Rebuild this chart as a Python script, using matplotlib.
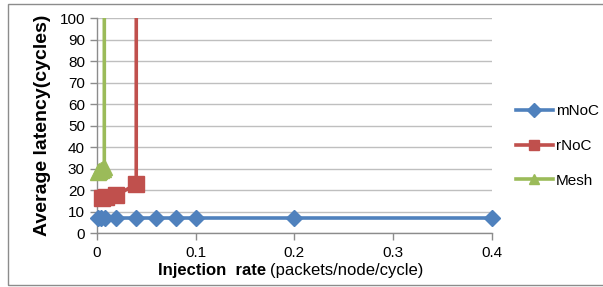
import matplotlib
matplotlib.use("Agg")
import matplotlib.pyplot as plt
from matplotlib.patches import Rectangle

plt.rcParams['font.family'] = ['Liberation Sans', 'DejaVu Sans']

# Data
mnoc_x = [0.001, 0.004, 0.008, 0.02, 0.04, 0.06, 0.08, 0.1, 0.2, 0.4]
mnoc_y = [7.3, 7.3, 7.3, 7.3, 7.3, 7.3, 7.3, 7.3, 7.3, 7.3]
rnoc_x = [0.005, 0.009, 0.02, 0.04, 0.0405]
rnoc_y = [16.5, 17.0, 17.8, 22.8, 1000]
mesh_x = [0.001, 0.002, 0.004, 0.006, 0.0077, 0.0078]
mesh_y = [28.5, 29.0, 29.5, 30.0, 31.0, 1000]
x_ticks = [0, 0.1, 0.2, 0.3, 0.4]
x_ticklabels = ["0", "0.1", "0.2", "0.3", "0.4"]
y_ticks = list(range(0, 101, 10))

W, H = 603, 287
fig = plt.figure(figsize=(W / 100, H / 100), dpi=100)
fig.patch.set_facecolor('white')
# outer chart border
fig.patches.append(Rectangle((8 / W, 2 / H), 1.0, (285 - 4) / H, transform=fig.transFigure,
                             fill=False, edgecolor='#8c8c8c', linewidth=1.0))

ax = fig.add_axes([96.7 / W, 1 - 233.3 / H, (492 - 96.7) / W, (233.3 - 18.3) / H])

blue = '#4f81bd'
red = '#c0504d'
green = '#9bbb59'

ax.plot(mnoc_x, mnoc_y, color=blue, lw=2.6, marker='D', ms=8, label='mNoC', clip_on=False, zorder=3)

ax.plot(rnoc_x, rnoc_y, color=red, lw=2.6, label='rNoC', zorder=3)
ax.plot(rnoc_x, rnoc_y, color=red, ls='none', marker='s', ms=11,
        markevery=list(range(len(rnoc_x) - 1)), clip_on=False, zorder=4)
ax.plot(mesh_x, mesh_y, color=green, lw=2.6, label='Mesh', zorder=3)
ax.plot(mesh_x, mesh_y, color=green, ls='none', marker='^', ms=11,
        markevery=list(range(len(mesh_x) - 1)), clip_on=False, zorder=4)

ax.set_xlim(0, 0.4)
ax.set_ylim(0, 100)
ax.set_xticks(x_ticks)
ax.set_xticklabels(x_ticklabels)
ax.set_yticks(y_ticks)
ax.yaxis.grid(True, color='#bfbfbf', lw=1.0)
ax.set_axisbelow(True)
for s in ['top', 'right']:
    ax.spines[s].set_visible(False)
for s in ['left', 'bottom']:
    ax.spines[s].set_color('#8c8c8c')
    ax.spines[s].set_linewidth(1.0)
ax.tick_params(axis='both', colors='#8c8c8c', labelcolor='black', labelsize=11, length=5, width=1.0)
ax.tick_params(axis='x', pad=4)

ax.set_ylabel('Average latency(cycles)', fontsize=14, fontweight='bold', labelpad=6)

fig.text(266 / W, 1 - 271 / H, 'Injection  rate', fontsize=12, fontweight='bold', ha='right', va='center')
fig.text(270 / W, 1 - 271 / H, '(packets/node/cycle)', fontsize=12, ha='left', va='center')

from matplotlib.lines import Line2D
handles = [Line2D([], [], color=blue, lw=2.6, marker='D', ms=7),
           Line2D([], [], color=red, lw=2.6, marker='s', ms=7),
           Line2D([], [], color=green, lw=2.6, marker='^', ms=7)]
leg = fig.legend(handles, ['mNoC', 'rNoC', 'Mesh'], loc='center left',
                 bbox_to_anchor=(510 / W, 1 - 146 / H), frameon=False,
                 fontsize=11, handlelength=2.4, handletextpad=0.2, labelspacing=1.35,
                 borderaxespad=0)

fig.savefig('out.png', dpi=100, facecolor='white')
